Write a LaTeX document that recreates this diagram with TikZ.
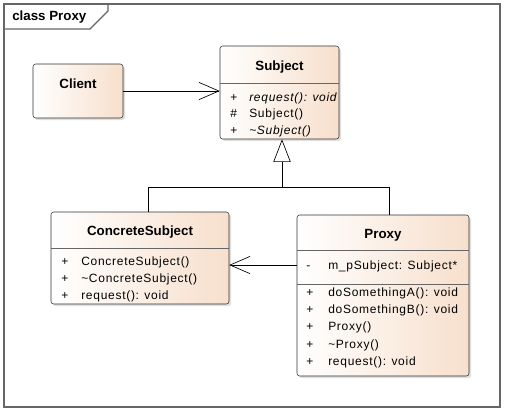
\documentclass[tikz,border=0pt]{standalone}
\usepackage{fontspec}
\setmainfont{Liberation Sans}
\newfontfamily\rowfont[LetterSpace=6]{Liberation Sans}
\usetikzlibrary{positioning,arrows.meta,fit,shadows}
\definecolor{clspeach}{HTML}{F7DFCC}

\begin{document}
\begin{tikzpicture}[x=0.75pt, y=-0.75pt, font=\rowfont\fontsize{9}{11}\selectfont,
  cls/.style={draw=black!80, rounded corners=2pt, inner sep=0pt, left color=white, right color=clspeach,
    drop shadow={shadow xshift=1.5pt, shadow yshift=-1.5pt, opacity=0.25}},
  ttl/.style={font=\fontsize{10}{12}\selectfont\bfseries, inner sep=0pt},
  row/.style={anchor=west, inner sep=0pt, text height=7pt, text depth=2pt},
  sep/.style={draw=black!60, line width=0.6pt},
  frame/.style={draw=black!60, line width=0.9pt},
  assoc/.style={-{Straight Barb[length=15pt, width=13pt]}, line width=0.5pt},
  gen/.style={-{Triangle[open, length=17pt, width=13pt, fill=white]}, line width=0.5pt}]
\useasboundingbox (0,0) rectangle (505,412);
% diagram frame
\draw[frame] (4,4) rectangle (500,407);
\draw[frame] (4,29) -- (90,29) -- (108,11) -- (108,4);
\node[ttl, anchor=west] (fname) at (12,17) {class Proxy};
% Client
\node[cls, fit={(33,64) (123,118)}] (client) {};
\node[ttl] (tclient) at (78,84) {Client};
% Subject
\node[cls, fit={(220,46) (339,139)}] (subj) {};
\node[ttl] (tsubj) at (279.5,67) {Subject};
\draw[sep] (subj.west |- 0,83) -- (subj.east |- 0,83);
\node[row] (s1v) at (230,98) {+};
\node[row] (s1) at (249,98) {\itshape request(): void};
\node[row] (s2v) at (230,114) {\#};
\node[row] (s2) at (249,114) {Subject()};
\node[row] (s3v) at (230,131) {+};
\node[row] (s3) at (249,131) {\itshape \textasciitilde Subject()};
% ConcreteSubject
\node[cls, fit={(51,212) (229,304)}] (cs) {};
\node[ttl] (tcs) at (140,232) {ConcreteSubject};
\draw[sep] (cs.west |- 0,248) -- (cs.east |- 0,248);
\node[row] (c1v) at (61,262) {+};
\node[row] (c1) at (81,262) {ConcreteSubject()};
\node[row] (c2v) at (61,279) {+};
\node[row] (c2) at (81,279) {\textasciitilde ConcreteSubject()};
\node[row] (c3v) at (61,296) {+};
\node[row] (c3) at (81,296) {request(): void};
% Proxy
\node[cls, fit={(297,215) (469,376)}] (px) {};
\node[ttl] (tpx) at (383,235) {Proxy};
\draw[sep] (px.west |- 0,250) -- (px.east |- 0,250);
\draw[sep] (px.west |- 0,284) -- (px.east |- 0,284);
\node[row] (pav) at (306,266) {-};
\node[row] (pa) at (328,266) {m\_pSubject: Subject*};
\node[row] (p1v) at (306,293) {+};
\node[row] (p1) at (328,293) {doSomethingA(): void};
\node[row] (p2v) at (306,310) {+};
\node[row] (p2) at (328,310) {doSomethingB(): void};
\node[row] (p3v) at (306,327) {+};
\node[row] (p3) at (328,327) {Proxy()};
\node[row] (p4v) at (306,345) {+};
\node[row] (p4) at (328,345) {\textasciitilde Proxy()};
\node[row] (p5v) at (306,362) {+};
\node[row] (p5) at (328,362) {request(): void};
% connectors
\coordinate (jn) at (282,187);
\draw[assoc] (client.east |- 0,91) -- (subj.west |- 0,91);
\draw[assoc] (px.west |- 0,265) -- (cs.east |- 0,265);
\draw[line width=0.5pt] (cs.north -| 148,0) |- (jn);
\draw[line width=0.5pt] (px.north -| 389,0) |- (jn);
\draw[gen] (jn) -- (jn |- subj.south);
\end{tikzpicture}
\end{document}
